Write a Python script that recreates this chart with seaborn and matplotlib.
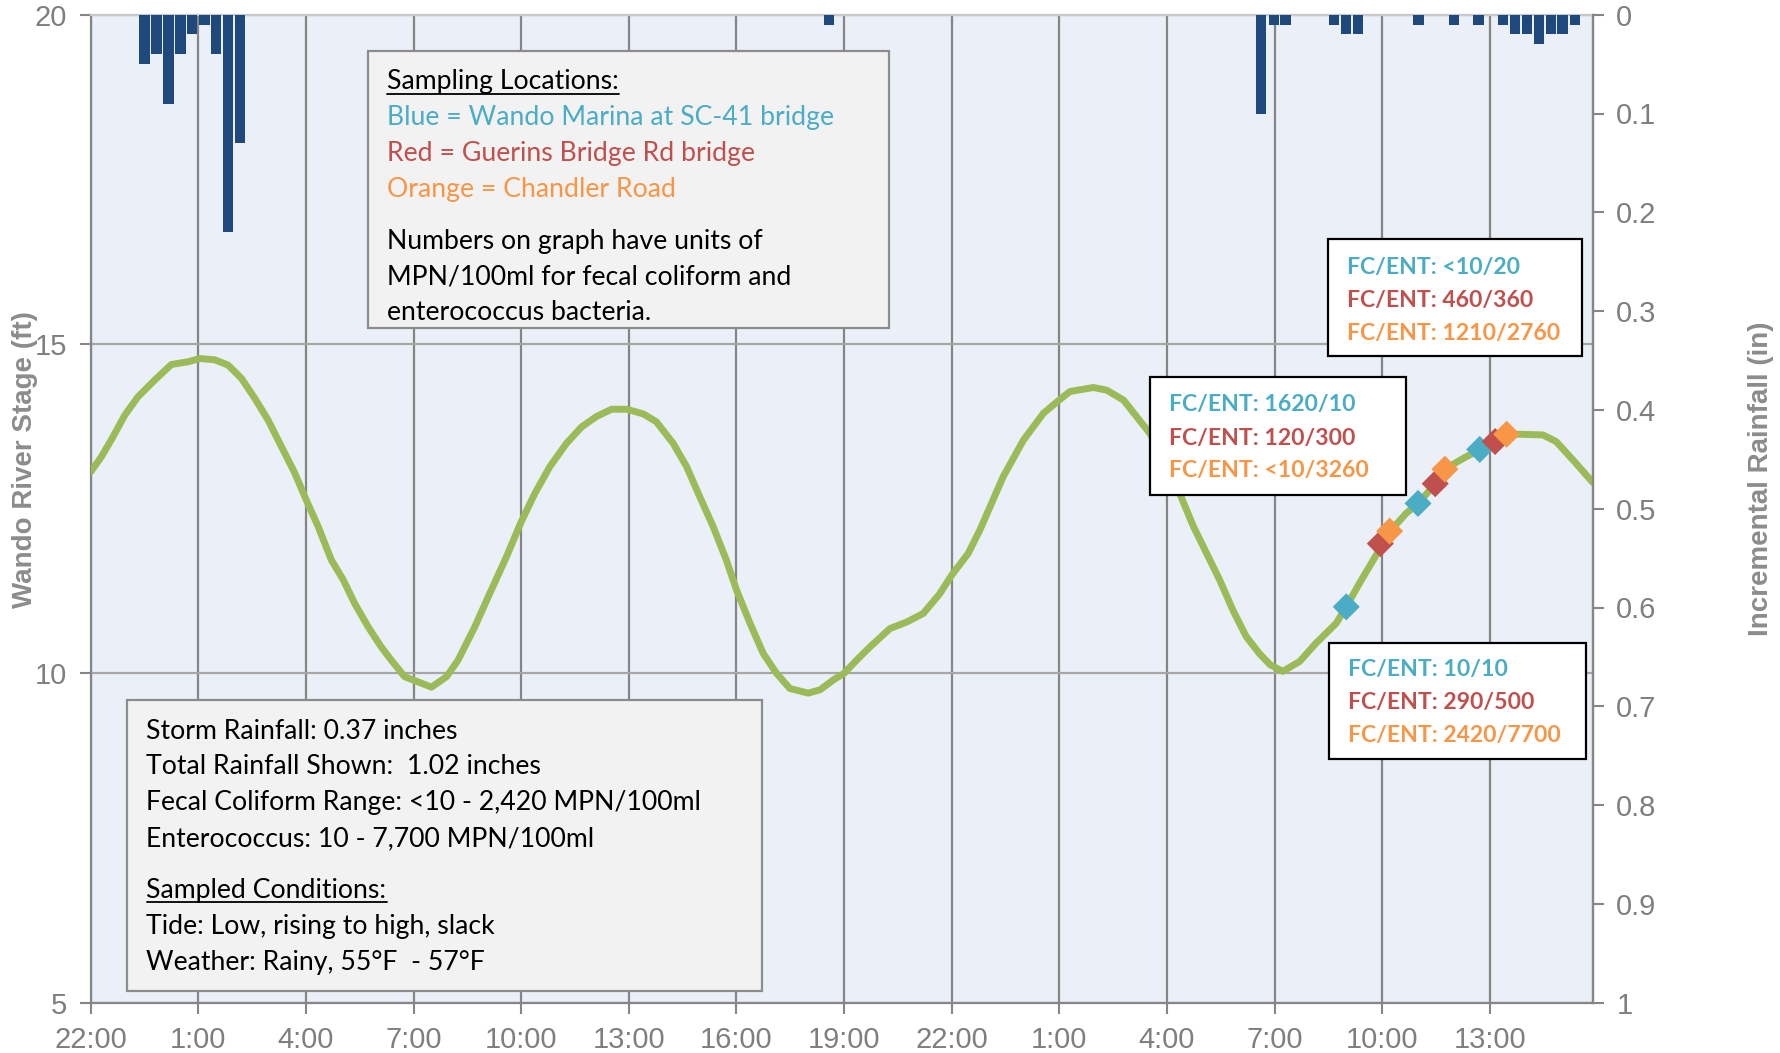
import matplotlib
matplotlib.use("Agg")
import matplotlib.pyplot as plt
import seaborn as sns
import numpy as np
from matplotlib import font_manager
from matplotlib.patches import Rectangle
from matplotlib.lines import Line2D
from matplotlib.ticker import FuncFormatter


def pick_font(candidates):
    for name in candidates:
        try:
            font_manager.findfont(font_manager.FontProperties(family=name), fallback_to_default=False)
            return name
        except Exception:
            continue
    return "DejaVu Sans"


# ---- river stage (hours after 22:00 on the first day, feet) ----
stage_hours = [0.00, 0.30, 0.62, 0.95, 1.32, 1.78, 2.25, 2.71, 3.04, 3.46, 3.83, 4.20,
               4.57, 4.94, 5.32, 5.69, 6.01, 6.34, 6.71, 7.04, 7.36, 7.73, 8.10, 8.38,
               8.75, 9.13, 9.50, 9.92, 10.24, 10.71, 11.08, 11.59, 12.00, 12.38, 12.80,
               13.26, 13.68, 14.10, 14.52, 14.94, 15.40, 15.77, 16.24, 16.61, 16.98,
               17.35, 17.72, 18.00, 18.38, 18.75, 19.12, 19.49, 20.00, 20.33, 20.70,
               21.00, 21.35, 21.72, 22.28, 22.75, 23.21, 23.67, 24.00, 24.46, 24.79,
               25.44, 26.00, 26.56, 27.00, 27.30, 27.95, 28.32, 28.79, 29.53, 30.09,
               30.74, 31.47, 31.84, 32.21, 32.58, 32.88, 33.23, 33.70, 34.16, 34.72,
               35.00, 35.37, 35.84, 36.21, 36.67, 37.00, 37.49, 37.74, 38.25, 38.72,
               39.13, 39.46, 39.83, 40.48, 40.85, 41.32, 41.87]
stage_ft = [13.06, 13.29, 13.59, 13.92, 14.20, 14.45, 14.69, 14.73, 14.78, 14.76, 14.68, 14.48,
            14.18, 13.85, 13.44, 13.04, 12.63, 12.23, 11.72, 11.42, 11.06, 10.71, 10.40, 10.20,
            9.95, 9.87, 9.79, 9.95, 10.20, 10.71, 11.16, 11.77, 12.30, 12.73, 13.14,
            13.49, 13.74, 13.90, 14.01, 14.01, 13.94, 13.82, 13.49, 13.14, 12.68,
            12.23, 11.72, 11.27, 10.76, 10.30, 10.00, 9.77, 9.70, 9.75, 9.90,
            10.00, 10.20, 10.40, 10.68, 10.78, 10.91, 11.21, 11.49, 11.82, 12.18,
            12.99, 13.54, 13.95, 14.15, 14.28, 14.34, 14.30, 14.15, 13.64, 13.08,
            12.23, 11.42, 10.96, 10.56, 10.30, 10.13, 10.03, 10.18, 10.46, 10.76,
            11.01, 11.37, 11.80, 12.15, 12.43, 12.58, 12.88, 13.10, 13.26, 13.40,
            13.54, 13.63, 13.63, 13.62, 13.52, 13.24, 12.90]

# ---- incremental rainfall (bar centres in hours, inches) ----
rain_hours = [1.50, 1.83, 2.17, 2.50, 2.83, 3.17, 3.50, 3.83, 4.17,
              20.58,
              32.63, 32.98, 33.31, 34.66, 34.99, 35.32, 37.01, 38.00, 38.69,
              39.37, 39.70, 40.04, 40.37, 40.70, 41.03, 41.38]
rain_in = [0.05, 0.04, 0.09, 0.04, 0.02, 0.01, 0.04, 0.22, 0.13,
           0.01,
           0.10, 0.01, 0.01, 0.01, 0.02, 0.02, 0.01, 0.01, 0.01,
           0.01, 0.02, 0.02, 0.03, 0.02, 0.02, 0.01]

# ---- sampling events on the rising tide ----
blue_hours = [35.00, 37.00, 38.72]
blue_ft = [11.01, 12.58, 13.40]
red_hours = [35.95, 37.48, 39.15]
red_ft = [11.97, 12.88, 13.52]
orange_hours = [36.21, 37.75, 39.47]
orange_ft = [12.16, 13.10, 13.63]

x_ticks = [0, 3, 6, 9, 12, 15, 18, 21, 24, 27, 30, 33, 36, 39]
x_labels = ["22:00", "1:00", "4:00", "7:00", "10:00", "13:00", "16:00", "19:00",
            "22:00", "1:00", "4:00", "7:00", "10:00", "13:00"]
stage_ticks = [5, 10, 15, 20]
rain_ticks = [0, 0.1, 0.2, 0.3, 0.4, 0.5, 0.6, 0.7, 0.8, 0.9, 1.0]

BLUE = "#4BACC6"
RED = "#C0504D"
ORANGE = "#F79646"
GREEN = "#9BBB59"
NAVY = "#1F497D"

sns.set_theme(style="white")
tick_font = pick_font(["Liberation Sans Narrow", "Liberation Sans", "DejaVu Sans"])
label_font = pick_font(["Liberation Sans", "DejaVu Sans"])
body_font = pick_font(["Lato", "Open Sans", "Noto Sans", "DejaVu Sans"])
plt.rcParams["font.family"] = [body_font, "DejaVu Sans"]

W, H = 1780, 1053
fig = plt.figure(figsize=(W / 100, H / 100), dpi=100)
ax = fig.add_axes([90.7 / W, 1 - 1002.7 / H, (1592.7 - 90.7) / W, (1002.7 - 14.7) / H])
ax.set_facecolor("#EBF0F8")

# stage line and sample markers
sns.lineplot(x=stage_hours, y=stage_ft, ax=ax, color=GREEN, lw=5, zorder=3)
for hrs, lev, col in [(blue_hours, blue_ft, BLUE), (red_hours, red_ft, RED),
                      (orange_hours, orange_ft, ORANGE)]:
    sns.scatterplot(x=hrs, y=lev, ax=ax, marker="D", s=190, color=col,
                    edgecolor="none", linewidth=0, zorder=4)

ax.set_xlim(0, 41.87)
ax.set_ylim(5, 20)
ax.set_xticks(x_ticks)
ax.set_xticklabels(x_labels)
ax.set_yticks(stage_ticks)
ax.set_yticklabels([str(v) for v in stage_ticks])
ax.set_xlabel("")
ax.set_ylabel("")
ax.xaxis.grid(True, color="#858585", lw=1.6)
ax.yaxis.grid(True, color="#A6A6A6", lw=1.6)
ax.set_axisbelow(True)

for side in ["left", "bottom", "right"]:
    ax.spines[side].set_color("#868686")
    ax.spines[side].set_linewidth(1.6)
ax.spines["top"].set_color("#C8C8C8")
ax.spines["top"].set_linewidth(1.6)

tick_kw = dict(labelsize=21, labelcolor="#7F7F7F", color="#868686", length=8, width=1.5)
ax.tick_params(axis="x", pad=9, direction="out", bottom=True, **tick_kw)
ax.tick_params(axis="y", pad=9, direction="out", left=True, **tick_kw)
for lab in ax.get_xticklabels() + ax.get_yticklabels():
    lab.set_fontfamily(tick_font)

# rainfall bars hang from the top on an inverted secondary axis
ax2 = ax.twinx()
ax2.bar(rain_hours, rain_in, width=0.29, color=NAVY, edgecolor="none", zorder=2)
ax2.set_ylim(1, 0)
ax2.set_yticks(rain_ticks)
ax2.yaxis.set_major_formatter(FuncFormatter(lambda v, p: "%g" % v))
ax2.tick_params(axis="y", pad=9, direction="out", right=True, **tick_kw)
for lab in ax2.get_yticklabels():
    lab.set_fontfamily(tick_font)
for side in ["left", "bottom", "top"]:
    ax2.spines[side].set_visible(False)
ax2.spines["right"].set_color("#868686")
ax2.spines["right"].set_linewidth(1.6)
ax2.grid(False)

# axis titles
fig.text(25 / W, 1 - 460 / H, "Wando River Stage (ft)", rotation=90, ha="center", va="center",
         fontsize=20, fontweight="bold", color="#8C8C8C", family=label_font)
fig.text(1761 / W, 1 - 479 / H, "Incremental Rainfall (in)", rotation=90, ha="center",
         va="center", fontsize=20, fontweight="bold", color="#8C8C8C", family=label_font)


def box(x0, y0, x1, y1, face, edge, lw):
    fig.add_artist(Rectangle((x0 / W, 1 - y1 / H), (x1 - x0) / W, (y1 - y0) / H,
                             transform=fig.transFigure, facecolor=face, edgecolor=edge,
                             lw=lw, zorder=5))


def line(x, y, s, color="black", size=19.2, weight="normal"):
    return fig.text(x / W, 1 - y / H, s, ha="left", va="center_baseline", color=color,
                    fontsize=size, fontweight=weight, zorder=6)


underlined = []

# legend of sampling locations
box(368, 51, 889, 328, "#F2F2F2", "#8C8C8C", 1.6)
underlined.append(line(387, 79.5, "Sampling Locations:"))
line(387, 114.6, "Blue = Wando Marina at SC-41 bridge", BLUE)
line(387, 151, "Red = Guerins Bridge Rd bridge", RED)
line(387, 187, "Orange = Chandler Road", ORANGE)
line(387, 239.5, "Numbers on graph have units of")
line(387, 274.7, "MPN/100ml for fecal coliform and")
line(387, 310, "enterococcus bacteria.")

# storm summary
box(127, 700, 762, 991, "#F2F2F2", "#8C8C8C", 1.6)
summary = ["Storm Rainfall: 0.37 inches",
           "Total Rainfall Shown:  1.02 inches",
           "Fecal Coliform Range: <10 - 2,420 MPN/100ml",
           "Enterococcus: 10 - 7,700 MPN/100ml"]
for s, y in zip(summary, [728.7, 763.9, 800.2, 836.5]):
    line(146.5, y, s)
underlined.append(line(146.5, 887.6, "Sampled Conditions:"))
line(146.5, 924, "Tide: Low, rising to high, slack")
line(146.5, 960.3, "Weather: Rainy, 55°F  - 57°F")

# bacteria results for each sampling round
callouts = [
    ((1328, 239.5, 1582, 356.4), 1347, [265.6, 298.5, 331.4], ["<10/20", "460/360", "1210/2760"]),
    ((1150, 377, 1406, 495), 1169, [403, 436, 469], ["1620/10", "120/300", "<10/3260"]),
    ((1329, 642.5, 1586, 759), 1348, [667.4, 700.3, 733.2], ["10/10", "290/500", "2420/7700"]),
]
for (x0, y0, x1, y1), tx, ys, vals in callouts:
    box(x0, y0, x1, y1, "white", "black", 1.6)
    for y, v, c in zip(ys, vals, [BLUE, RED, ORANGE]):
        line(tx, y, "FC/ENT: " + v, c, size=16.6, weight="bold")

fig.canvas.draw()
renderer = fig.canvas.get_renderer()
for t in underlined:
    bb = t.get_window_extent(renderer)
    y = (bb.y0 + 1) / H
    fig.add_artist(Line2D([bb.x0 / W, bb.x1 / W], [y, y], transform=fig.transFigure,
                          color="black", lw=1.3, zorder=6))

fig.savefig("out.png", dpi=100)
